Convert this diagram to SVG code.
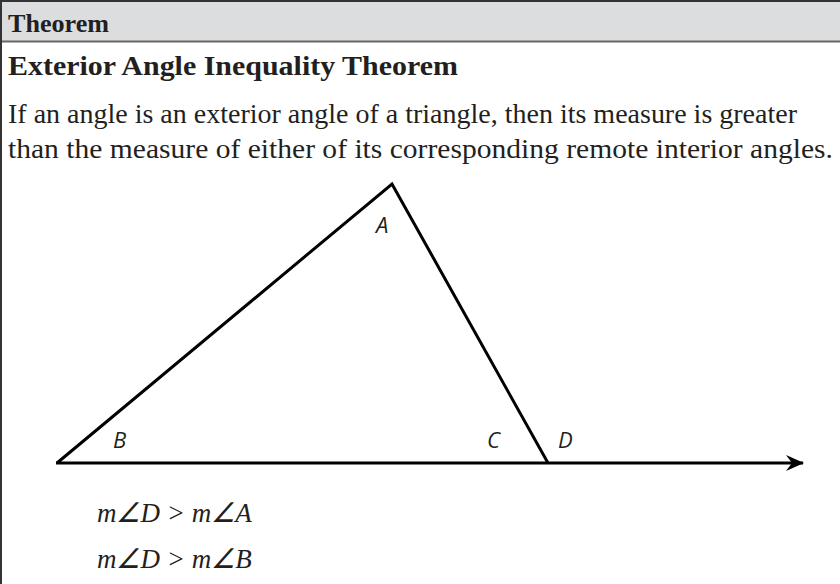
<svg xmlns="http://www.w3.org/2000/svg" width="840" height="584" viewBox="0 0 840 584">
<defs>
<style>
.hd{font-family:"Liberation Serif",serif;font-weight:bold;fill:#231f20}
.bd{font-family:"Liberation Serif",serif;font-size:27px;fill:#231f20}
.lb{font-family:"Open Sans","Liberation Sans",sans-serif;font-style:italic;font-size:22px;fill:#231f20}
.mt{font-family:"Liberation Serif",serif;font-style:italic;font-size:27px;fill:#231f20}
.ln{stroke:#000;stroke-width:3;fill:none;stroke-linejoin:miter}
</style>
<marker id="arr" markerWidth="20" markerHeight="16" viewBox="0 0 20 16" refX="17" refY="8" orient="auto" markerUnits="userSpaceOnUse">
<path d="M0,0 L18,8 L0,16 L6,8 Z" fill="#000"/>
</marker>
</defs>
<rect x="0" y="0" width="840" height="584" fill="#fff"/>
<g id="frame">
<rect x="1" y="1" width="845" height="40" fill="#dcdddf"/>
<line x1="0" y1="1" x2="840" y2="1" stroke="#333" stroke-width="2"/>
<line x1="0" y1="41.5" x2="840" y2="41.5" stroke="#666" stroke-width="2"/>
<line x1="1" y1="0" x2="1" y2="584" stroke="#333" stroke-width="2"/>
</g>
<g id="text">
<text class="hd" x="8" y="32" font-size="26" textLength="101" lengthAdjust="spacingAndGlyphs">Theorem</text>
<text class="hd" x="8" y="75" font-size="28" textLength="450" lengthAdjust="spacingAndGlyphs">Exterior Angle Inequality Theorem</text>
<text class="bd" x="8" y="123" textLength="789" lengthAdjust="spacingAndGlyphs">If an angle is an exterior angle of a triangle, then its measure is greater</text>
<text class="bd" x="8" y="158" textLength="825" lengthAdjust="spacingAndGlyphs">than the measure of either of its corresponding remote interior angles.</text>
</g>
<g id="connectors">
<polyline class="ln" points="57,463 392,184 548,463"/>
<line class="ln" x1="56" y1="463" x2="803" y2="463" marker-end="url(#arr)"/>
</g>
<g id="node-A"><text class="lb" x="376" y="233">A</text></g>
<g id="node-B"><text class="lb" x="113" y="448">B</text></g>
<g id="node-C"><text class="lb" x="487" y="448">C</text></g>
<g id="node-D"><text class="lb" x="558" y="448">D</text></g>
<g id="eq">
<text class="mt" x="97" y="522">m∠D &gt; m∠A</text>
<text class="mt" x="97" y="568">m∠D &gt; m∠B</text>
</g>
</svg>
